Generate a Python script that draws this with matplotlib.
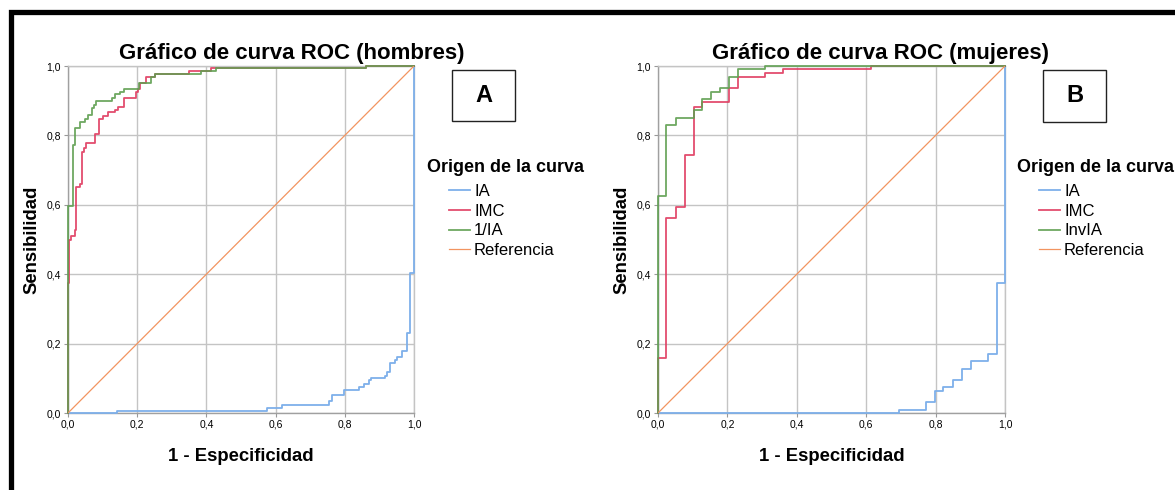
import matplotlib
matplotlib.use("Agg")
import matplotlib.pyplot as plt
from matplotlib.patches import Rectangle

plt.rcParams["font.family"] = ["Liberation Sans", "DejaVu Sans"]

# ROC vertices (1 - especificidad, sensibilidad), step drawn "post"
men_ia_fpr = [0.0, 0.141, 0.575, 0.618, 0.753, 0.762, 0.798, 0.841, 0.856, 0.870,
              0.875, 0.916, 0.923, 0.931, 0.945, 0.952, 0.966, 0.980, 0.987, 1.0]
men_ia_tpr = [0.0, 0.007, 0.015, 0.024, 0.034, 0.051, 0.066, 0.075, 0.084, 0.095,
              0.101, 0.108, 0.118, 0.145, 0.153, 0.162, 0.178, 0.230, 0.403, 1.0]

men_imc_fpr = [0.0, 0.0, 0.003, 0.010, 0.019, 0.022, 0.036, 0.041, 0.045, 0.053,
               0.077, 0.091, 0.101, 0.115, 0.135, 0.144, 0.163, 0.197, 0.202, 0.207,
               0.226, 0.250, 0.349, 0.413, 0.860, 1.0]
men_imc_tpr = [0.0, 0.375, 0.499, 0.511, 0.527, 0.650, 0.660, 0.752, 0.763, 0.778,
               0.803, 0.848, 0.855, 0.866, 0.874, 0.882, 0.908, 0.924, 0.935, 0.950,
               0.969, 0.976, 0.986, 0.993, 1.0, 1.0]

men_inv_fpr = [0.0, 0.0, 0.014, 0.019, 0.036, 0.048, 0.058, 0.070, 0.075, 0.082,
               0.128, 0.135, 0.149, 0.162, 0.205, 0.240, 0.250, 0.385, 0.428, 0.860, 1.0]
men_inv_tpr = [0.0, 0.597, 0.771, 0.821, 0.839, 0.848, 0.858, 0.879, 0.887, 0.900,
               0.909, 0.918, 0.926, 0.933, 0.950, 0.969, 0.976, 0.986, 0.993, 1.0, 1.0]

women_ia_fpr = [0.0, 0.695, 0.772, 0.798, 0.822, 0.849, 0.875, 0.901, 0.952, 0.978, 1.0]
women_ia_tpr = [0.0, 0.010, 0.032, 0.063, 0.074, 0.095, 0.128, 0.149, 0.171, 0.375, 1.0]

women_imc_fpr = [0.0, 0.0, 0.024, 0.051, 0.077, 0.103, 0.128, 0.205, 0.231, 0.308,
                 0.359, 0.615, 1.0]
women_imc_tpr = [0.0, 0.159, 0.561, 0.594, 0.744, 0.882, 0.895, 0.937, 0.969, 0.981,
                 0.991, 1.0, 1.0]

women_inv_fpr = [0.0, 0.0, 0.024, 0.051, 0.103, 0.128, 0.154, 0.180, 0.205, 0.231,
                 0.308, 1.0]
women_inv_tpr = [0.0, 0.626, 0.829, 0.851, 0.874, 0.904, 0.926, 0.937, 0.969, 0.990,
                 1.0, 1.0]

ref_line = [0.0, 1.0]

tick_vals = [0.0, 0.2, 0.4, 0.6, 0.8, 1.0]
tick_labels = ["0,0", "0,2", "0,4", "0,6", "0,8", "1,0"]

C_IA = "#7eb0ea"
C_IMC = "#e03a5f"
C_INV = "#5e9f50"
C_REF = "#f29460"
GRID = "#c4c4c4"

W, H = 1175, 490
fig = plt.figure(figsize=(W / 100, H / 100), dpi=100)


def px_rect(x0, y0, x1, y1):
    # pixel box (top-left origin) -> figure fraction rect
    return [x0 / W, 1 - y1 / H, (x1 - x0) / W, (y1 - y0) / H]


def roc_panel(rect, title, ia, imc, inv, inv_name, letter, box_x, leg_x, ylab_x, title_x):
    ax = fig.add_axes(px_rect(*rect))
    kw = dict(where="post", lw=1.3, zorder=3, clip_on=False)
    ax.step(ia[0], ia[1], color=C_IA, label="IA", **kw)
    ax.step(imc[0], imc[1], color=C_IMC, alpha=0.9, label="IMC", **kw)
    ax.step(inv[0], inv[1], color=C_INV, alpha=0.9, label=inv_name, **kw)
    ax.plot(ref_line, ref_line, color=C_REF, lw=0.9, zorder=3, label="Referencia")

    ax.set_xlim(0, 1)
    ax.set_ylim(0, 1)
    ax.set_xticks(tick_vals)
    ax.set_xticklabels(tick_labels)
    ax.set_yticks(tick_vals)
    ax.set_yticklabels(tick_labels)
    ax.tick_params(labelsize=7.5, length=3, width=0.8, color="#999999", pad=2)
    ax.grid(True, color=GRID, lw=1.0)
    ax.set_axisbelow(True)
    for name, sp in ax.spines.items():
        sp.set_color(GRID)
        sp.set_linewidth(1.0)
    ax.spines["left"].set_color("#a0a0a0")
    ax.spines["bottom"].set_color("#a0a0a0")

    # title sits right of the axes centre
    ax.set_title(title, fontsize=16, fontweight="bold", pad=5,
                 x=(title_x - rect[0]) / (rect[2] - rect[0]))
    ax.set_xlabel("1 - Especificidad", fontsize=13.3, fontweight="bold", labelpad=13)
    ax.set_ylabel("Sensibilidad", fontsize=13.3, fontweight="bold")
    ax.yaxis.set_label_coords((ylab_x - rect[0]) / (rect[2] - rect[0]), 0.5)

    # letter box
    bx0, by0, bx1, by1 = box_x
    fig.patches.append(Rectangle((bx0 / W, 1 - by1 / H), (bx1 - bx0) / W, (by1 - by0) / H,
                                 transform=fig.transFigure, fill=False,
                                 edgecolor="#222222", lw=1.0))
    fig.text((bx0 + bx1) / 2 / W, 1 - (by0 + by1) / 2 / H, letter, fontsize=17,
             fontweight="bold", ha="center", va="center")

    # legend
    fig.text(leg_x / W, 1 - 168 / H, "Origen de la curva", fontsize=13,
             fontweight="bold", ha="left", va="center")
    handles, labels = ax.get_legend_handles_labels()
    fig.legend(handles, labels, loc="upper left",
               bbox_to_anchor=((leg_x + 22) / W, 1 - 184 / H),
               frameon=False, fontsize=12, handlelength=1.25, handletextpad=0.25,
               labelspacing=0.28, borderaxespad=0, borderpad=0)
    return ax


roc_panel((68, 66, 414, 413), "Gráfico de curva ROC (hombres)",
          (men_ia_fpr, men_ia_tpr), (men_imc_fpr, men_imc_tpr),
          (men_inv_fpr, men_inv_tpr), "1/IA", "A",
          (452, 70, 515, 121), 427, 40, 292)
roc_panel((658, 66, 1005, 413), "Gráfico de curva ROC (mujeres)",
          (women_ia_fpr, women_ia_tpr), (women_imc_fpr, women_imc_tpr),
          (women_inv_fpr, women_inv_tpr), "InvIA", "B",
          (1043, 70, 1106, 122), 1017, 630, 881)

# outer frame, running off the right and bottom edges
fig.patches.append(Rectangle((10.8 / W, -0.2), 1.3, 1 - 12.5 / H + 0.2,
                             transform=fig.transFigure, fill=False,
                             edgecolor="black", lw=3.8))

fig.savefig("out.png", dpi=100)
